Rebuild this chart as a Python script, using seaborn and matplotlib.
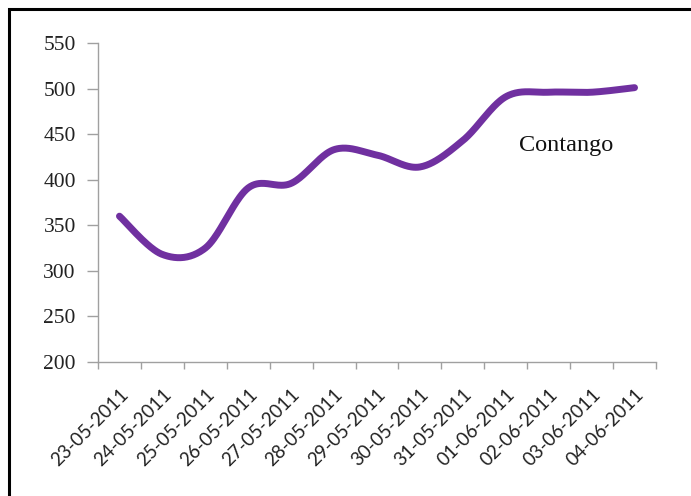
import numpy as np
import pandas as pd
import matplotlib
matplotlib.use("Agg")
import matplotlib.pyplot as plt
from matplotlib.patches import Rectangle
import seaborn as sns

dates = ["23-05-2011", "24-05-2011", "25-05-2011", "26-05-2011", "27-05-2011",
         "28-05-2011", "29-05-2011", "30-05-2011", "31-05-2011", "01-06-2011",
         "02-06-2011", "03-06-2011", "04-06-2011"]
values = [360, 318, 325, 391, 396, 433, 427, 414, 443, 491, 496, 496, 501]
y_ticks = [200, 250, 300, 350, 400, 450, 500, 550]
label_text = "Contango"

sns.set_theme(style="white")
plt.rcParams["font.family"] = ["Liberation Serif", "DejaVu Serif"]


def smooth_curve(xs, ys, n=40):
    # Excel-style smoothed line (Catmull-Rom through the data points)
    p = np.column_stack([xs, ys]).astype(float)
    p_ext = np.vstack([p[0], p, p[-1]])
    out = []
    for i in range(len(p) - 1):
        p0, p1, p2, p3 = p_ext[i], p_ext[i + 1], p_ext[i + 2], p_ext[i + 3]
        c1 = p1 + (p2 - p0) / 6.0
        c2 = p2 - (p3 - p1) / 6.0
        t = np.linspace(0, 1, n, endpoint=(i == len(p) - 2))[:, None]
        seg = ((1 - t) ** 3) * p1 + 3 * ((1 - t) ** 2) * t * c1 + 3 * (1 - t) * t ** 2 * c2 + t ** 3 * p2
        out.append(seg)
    out = np.vstack(out)
    return out[:, 0], out[:, 1]


xi = np.arange(len(dates))
sx, sy = smooth_curve(xi, values)
df = pd.DataFrame({"x": sx, "y": sy})

fig = plt.figure(figsize=(6.91, 4.96), dpi=100)
ax = fig.add_axes([98 / 691, 1 - 362 / 496, 558 / 691, 319 / 496])

sns.lineplot(data=df, x="x", y="y", ax=ax, sort=False, color="#7030A0",
             linewidth=5, solid_capstyle="round", estimator=None)

ax.set_xlim(-0.5, len(dates) - 0.5)
ax.set_ylim(200, 550)
ax.set_yticks(y_ticks)
ax.set_yticklabels([str(v) for v in y_ticks], fontsize=15.5, color="#222222")
ax.set_xticks(xi)
ax.set_xticklabels(dates, rotation=45, ha="right", va="top", rotation_mode="anchor",
                   fontsize=13.5, family=["Lato", "DejaVu Sans"], color="#222222")
ax.set_xticks(np.arange(-0.5, len(dates), 1.0), minor=True)
ax.tick_params(axis="x", which="major", length=0, pad=17)
ax.tick_params(axis="x", which="minor", length=5, width=1, color="#A0A0A0", direction="out", bottom=True)
ax.tick_params(axis="y", which="major", length=8, width=1, color="#A0A0A0", direction="out", left=True, pad=8)
ax.set_xlabel("")
ax.set_ylabel("")
ax.grid(False)
for side in ["top", "right"]:
    ax.spines[side].set_visible(False)
for side in ["left", "bottom"]:
    ax.spines[side].set_color("#A0A0A0")
    ax.spines[side].set_linewidth(1)

ax.text(0.839, 0.680, label_text, transform=ax.transAxes, ha="center", va="center",
        fontsize=17.5, color="#111111")

fig.patches.append(Rectangle((9 / 691, -0.1), 1.2, 1 - 9 / 496 + 0.1, transform=fig.transFigure,
                             fill=False, edgecolor="black", linewidth=2.2))

fig.savefig("out.png", dpi=100)
